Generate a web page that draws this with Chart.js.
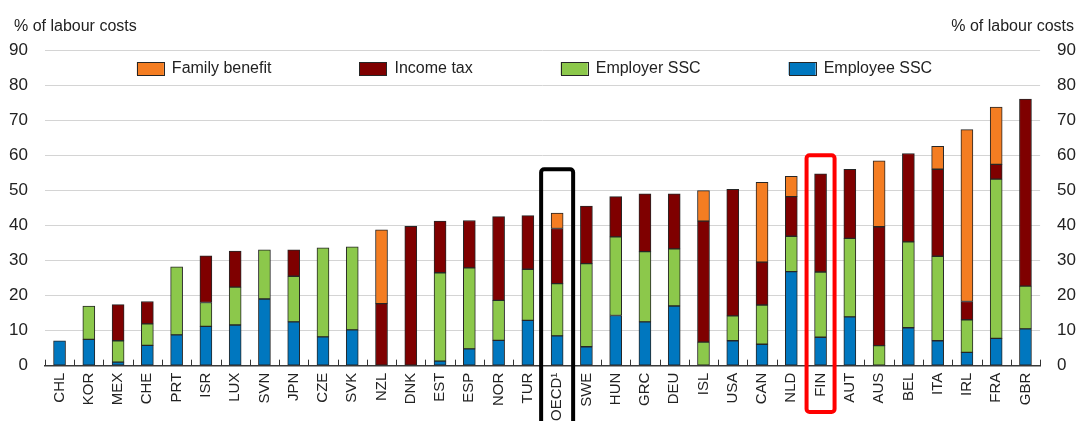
<!DOCTYPE html>
<html>
<head>
<meta charset="utf-8">
<script src="https://cdn.jsdelivr.net/npm/chart.js@4"></script>
<style>
  body { margin: 0; background: #fff; }
  #wrap { width: 1078px; height: 421px; position: relative; }
</style>
</head>
<body>
<div id="wrap"><canvas id="myChart"></canvas></div>
<script>
// countries, low to high total tax wedge
const countries = ["CHL", "KOR", "MEX", "CHE", "PRT", "ISR", "LUX", "SVN", "JPN", "CZE", "SVK",
  "NZL", "DNK", "EST", "ESP", "NOR", "TUR", "OECD¹", "SWE", "HUN", "GRC", "DEU", "ISL", "USA",
  "CAN", "NLD", "FIN", "AUT", "AUS", "BEL", "ITA", "IRL", "FRA", "GBR"];

// % of labour costs
const employeeSSC = [7.1, 7.5, 1.0, 5.8, 8.8, 11.2, 11.6, 19.0, 12.5, 8.2, 10.2,
  null, null, 1.3, 4.8, 7.2, 12.9, 8.5, 5.4, 14.3, 12.5, 17.0, null, 7.1,
  6.1, 26.8, 8.1, 13.9, null, 10.8, 7.1, 3.8, 7.8, 10.5];
const employerSSC = [null, 9.5, 6.1, 6.1, 19.4, 6.8, 10.8, 14.0, 13.0, 25.4, 23.7,
  null, null, 25.2, 23.1, 11.4, 14.6, 14.9, 23.7, 22.4, 20.0, 16.3, 6.7, 7.1,
  11.2, 10.1, 18.6, 22.4, 5.7, 24.5, 24.1, 9.3, 45.4, 12.2];
const incomeTax = [null, null, 10.3, 6.4, null, 13.3, 10.3, null, 7.5, null, null,
  17.7, 39.7, 14.7, 13.5, 23.9, 15.3, 15.7, 16.4, 11.5, 16.5, 15.7, 34.5, 36.1,
  12.2, 11.3, 28.0, 19.7, 33.9, 25.2, 24.8, 5.2, 4.2, 53.3];
const familyBenefit = [null, null, null, null, null, null, null, null, null, null, null,
  21.0, null, null, null, null, null, 4.4, null, null, null, null, 8.7, null,
  22.8, 5.8, null, null, 18.8, null, 6.5, 49.0, 16.3, null];

const yTicks = [0, 10, 20, 30, 40, 50, 60, 70, 80, 90];
const axisTitle = "% of labour costs";

// highlighted bars: [category, top of frame in axis units]
const oecdFrame = ["OECD¹", 56];
const finFrame = ["FIN", 60];

const FONT = "'Liberation Sans', Arial, sans-serif";
const TXT = "#222222";

// legend drawn inside the plot, one row, just under the top gridline
const legendInside = {
  id: "legendInside",
  afterDatasetsDraw(chart) {
    const ctx = chart.ctx;
    const area = chart.chartArea;
    const items = chart.data.datasets.slice().reverse();
    const boxW = 27, boxH = 13, gap = 8, pad = 88;
    ctx.save();
    ctx.font = "16px " + FONT;
    const widths = items.map((ds) => boxW + gap + ctx.measureText(ds.label).width);
    const total = widths.reduce((a, b) => a + b, 0) + pad * (items.length - 1);
    let x = (area.left + area.right) / 2 - 8 - total / 2;
    const yMid = area.top + 18.5;
    ctx.textBaseline = "middle";
    ctx.textAlign = "left";
    items.forEach((ds, i) => {
      ctx.fillStyle = ds.backgroundColor;
      ctx.fillRect(x, yMid - boxH / 2, boxW, boxH);
      ctx.strokeStyle = ds.borderColor;
      ctx.lineWidth = 1;
      ctx.strokeRect(Math.round(x) + 0.5, Math.round(yMid - boxH / 2) + 0.5, boxW, boxH);
      ctx.fillStyle = TXT;
      ctx.fillText(ds.label, x + boxW + gap, yMid);
      x += widths[i] + pad;
    });
    ctx.restore();
  }
};

// small tick marks between the categories, pointing up from the axis
const catTicks = {
  id: "catTicks",
  afterDatasetsDraw(chart) {
    const x = chart.scales.x;
    const y0 = chart.scales.y.getPixelForValue(0);
    const step = x.getPixelForValue(1) - x.getPixelForValue(0);
    const ctx = chart.ctx;
    ctx.save();
    ctx.strokeStyle = "#333333";
    ctx.lineWidth = 1;
    for (let i = 0; i <= countries.length; i++) {
      const px = Math.round(x.getPixelForValue(i) - step / 2) + 0.5;
      ctx.beginPath();
      ctx.moveTo(px, y0);
      ctx.lineTo(px, y0 - 6);
      ctx.stroke();
    }
    ctx.restore();
  }
};

// frames round OECD and FIN + the two axis titles
const frames = {
  id: "frames",
  afterDraw(chart) {
    const x = chart.scales.x;
    const y = chart.scales.y;
    const ctx = chart.ctx;
    function frame(spec, w, bottom, color) {
      const cx = x.getPixelForValue(countries.indexOf(spec[0]));
      const top = y.getPixelForValue(spec[1]);
      ctx.save();
      ctx.strokeStyle = color;
      ctx.lineWidth = 4;
      ctx.beginPath();
      ctx.roundRect(cx - w / 2, top, w, bottom - top, 3);
      ctx.stroke();
      ctx.restore();
    }
    frame(oecdFrame, 32, chart.height + 10, "#000000");
    frame(finFrame, 28, chart.height - 9, "#ff0000");

    ctx.save();
    ctx.fillStyle = TXT;
    ctx.font = "16px " + FONT;
    ctx.textBaseline = "middle";
    ctx.textAlign = "left";
    ctx.fillText(axisTitle, 14, 27);
    ctx.textAlign = "right";
    ctx.fillText(axisTitle, chart.width - 4, 27);
    ctx.restore();
  }
};

function bars(label, data, color) {
  return {
    label: label,
    data: data,
    backgroundColor: color,
    borderColor: "#262626",
    borderWidth: 1,
    borderSkipped: false,
    barThickness: 12,
    yAxisID: "y"
  };
}

const yTickOpts = {
  padding: 17,
  color: TXT,
  font: { family: FONT, size: 17 },
  stepSize: 10,
  callback: (v) => (yTicks.includes(v) ? v : "")
};

new Chart(document.getElementById("myChart"), {
  type: "bar",
  data: {
    labels: countries,
    datasets: [
      bars("Employee SSC", employeeSSC, "#0077bf"),
      bars("Employer SSC", employerSSC, "#8cc84b"),
      bars("Income tax", incomeTax, "#7f0000"),
      bars("Family benefit", familyBenefit, "#f47d22")
    ]
  },
  options: {
    responsive: true,
    maintainAspectRatio: false,
    animation: false,
    // tick padding is counted twice in the axis size, so pull the edges back
    layout: { padding: { left: -8, right: -15, top: 50, bottom: -7 } },
    plugins: {
      tooltip: { enabled: false },
      legend: { display: false }
    },
    scales: {
      x: {
        stacked: true,
        grid: { display: false, drawTicks: false },
        border: { display: true, color: "#3a3a3a", width: 1.5 },
        ticks: {
          autoSkip: false,
          minRotation: 90,
          maxRotation: 90,
          padding: 7,
          color: TXT,
          font: { family: FONT, size: 15 }
        }
      },
      y: {
        stacked: true,
        position: "left",
        min: yTicks[0],
        max: yTicks[yTicks.length - 1],
        grid: { color: "#d4d4d4", lineWidth: 1, drawTicks: false },
        border: { display: false },
        ticks: yTickOpts
      },
      y2: {
        position: "right",
        min: yTicks[0],
        max: yTicks[yTicks.length - 1],
        grid: { display: false, drawTicks: false },
        border: { display: false },
        ticks: yTickOpts
      }
    }
  },
  plugins: [legendInside, catTicks, frames]
});
</script>
</body>
</html>
